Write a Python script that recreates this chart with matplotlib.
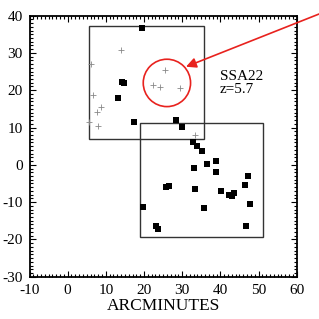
import matplotlib
matplotlib.use("Agg")
import matplotlib.pyplot as plt
from matplotlib.patches import Rectangle, Ellipse
from matplotlib.ticker import MultipleLocator

plt.rcParams['font.family'] = ['Liberation Serif', 'DejaVu Serif']
plt.rcParams['axes.unicode_minus'] = False

# filled squares (arcmin)
sq_x = [19.4, 14.15, 14.8, 13.3, 17.3, 28.5, 29.9, 32.9, 33.8, 35.3, 36.5, 38.9, 38.9,
        33.2, 47.3, 46.4, 25.76, 26.5, 33.3, 40.25, 42.2, 43.05, 43.6, 47.85, 35.6,
        19.8, 23.06, 23.6, 46.7]
sq_y = [36.6, 22.2, 21.9, 18.0, 11.6, 12.0, 10.2, 6.2, 5.1, 3.7, 0.2, 1.05, -1.9,
        -0.9, -3.06, -5.4, -5.9, -5.7, -6.5, -6.9, -8.0, -8.26, -7.5, -10.5, -11.6,
        -11.3, -16.3, -17.2, -16.5]

# small crosses
pl_x = [14.05, 6.0, 6.7, 8.65, 7.6, 5.6, 7.9, 25.6, 22.3, 24.1, 29.35, 33.4]
pl_y = [30.8, 26.9, 18.8, 15.4, 14.1, 11.6, 10.4, 25.4, 21.4, 20.8, 20.6, 8.0]

# survey fields: (x0, y0, width, height)
fields = [(5.6, 6.9, 30.2, 30.3), (19.0, -19.25, 32.1, 30.4)]

fig = plt.figure(figsize=(3.19, 3.19), dpi=100)
ax = fig.add_axes([0.0925, 0.1326, 0.8375, 0.8184])

for x0, y0, w, h in fields:
    ax.add_patch(Rectangle((x0, y0), w, h, fill=False, edgecolor='#333333', lw=1.0))

ax.add_patch(Ellipse((26.0, 21.96), 12.4, 12.7, fill=False, edgecolor='#e8221e', lw=1.2))

ax.plot(sq_x, sq_y, 's', color='black', markersize=4.7, markeredgewidth=0)
ax.plot(pl_x, pl_y, '+', color='#888888', markersize=3.8, markeredgewidth=0.6)

ax.annotate('', xy=(31.0, 26.3), xytext=(68.0, 41.3), annotation_clip=False,
            arrowprops=dict(arrowstyle='-|>', color='#e8221e', lw=1.2,
                            mutation_scale=15, shrinkA=0, shrinkB=0))

ax.text(39.9, 25.3, 'SSA22\nz=5.7', fontsize=11, va='top', ha='left', linespacing=0.95)

ax.set_xlim(-10, 60)
ax.set_ylim(-30, 40)
ax.xaxis.set_major_locator(MultipleLocator(10))
ax.yaxis.set_major_locator(MultipleLocator(10))
ax.xaxis.set_minor_locator(MultipleLocator(1))
ax.yaxis.set_minor_locator(MultipleLocator(1))
ax.tick_params(which='both', direction='in', top=True, right=True, labelsize=11, width=0.8)
ax.tick_params(which='major', length=4, pad=5)
ax.tick_params(which='minor', length=2)
for s in ax.spines.values():
    s.set_linewidth(1.3)
ax.set_xlabel('ARCMINUTES', fontsize=12.5, labelpad=1)

fig.savefig('out.png', dpi=100)
